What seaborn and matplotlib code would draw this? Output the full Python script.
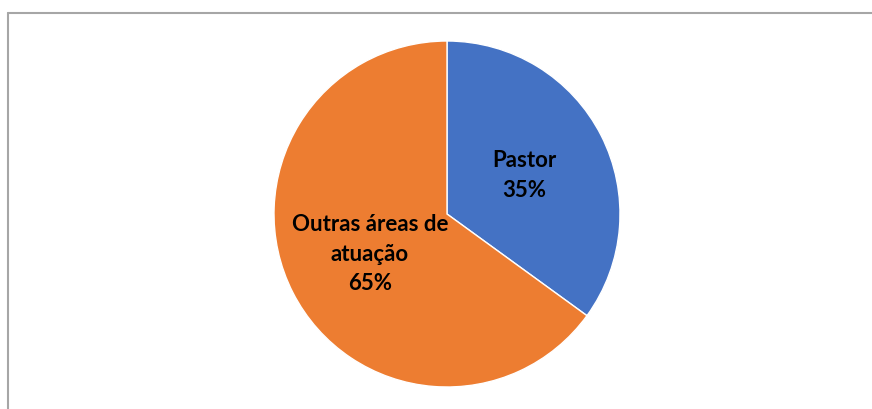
import matplotlib
matplotlib.use("Agg")
import matplotlib.pyplot as plt
from matplotlib.lines import Line2D
import seaborn as sns

categories = ["Pastor", "Outras áreas de\natuação"]
values = [35, 65]
colors = ["#4472C4", "#ED7D31"]

sns.set_theme(style="white")
plt.rcParams['font.family'] = ['Lato', 'DejaVu Sans']

fig = plt.figure(figsize=(8.72, 4.10), dpi=100)
W, H = 872, 410

# chart border (only top and left are visible in frame)
fig.add_artist(Line2D([8 / W, 8 / W], [0, 1 - 14 / H], color="#A6A6A6", lw=1.5))
fig.add_artist(Line2D([8 / W, 1], [1 - 14 / H, 1 - 14 / H], color="#A6A6A6", lw=1.5))

cx, cy, r = 447, 215, 173
ax = fig.add_axes([(cx - r) / W, (H - cy - r) / H, 2 * r / W, 2 * r / H])

labels = [f"{c}\n{v}%" for c, v in zip(categories, values)]
wedges, texts = ax.pie(values, labels=labels, colors=colors, startangle=90,
                       counterclock=False, labeldistance=0.5,
                       wedgeprops=dict(edgecolor="white", linewidth=1),
                       textprops=dict(fontsize=16, fontweight="bold", color="black",
                                      linespacing=1.5))
for t in texts:
    t.set_ha("center")
    t.set_va("center")
ax.set_xlim(-1, 1)
ax.set_ylim(-1, 1)

plt.savefig("out.png", dpi=100)
plt.close()
